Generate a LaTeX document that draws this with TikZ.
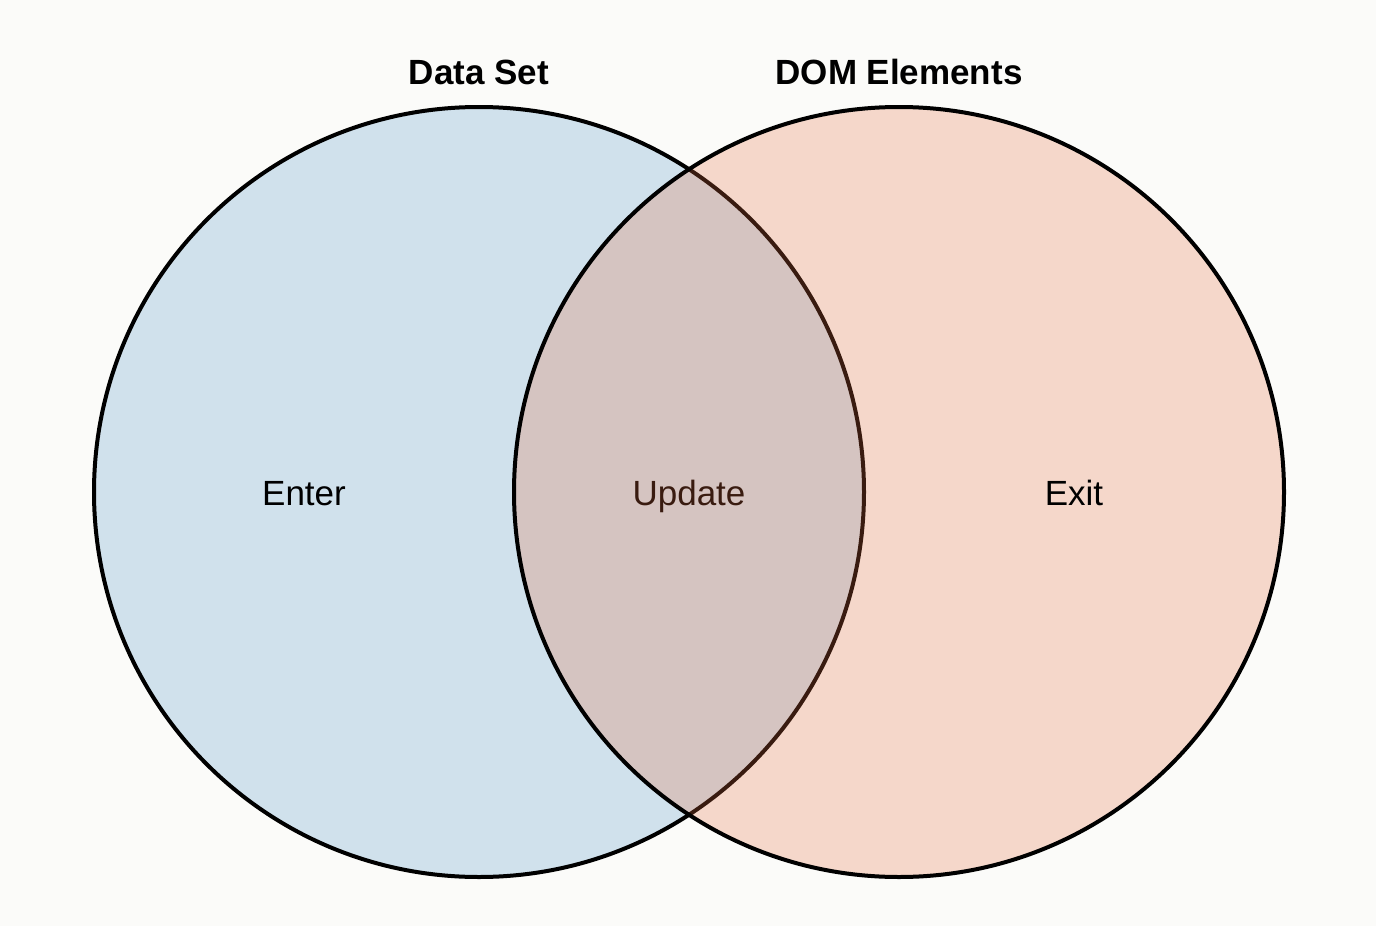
\documentclass[tikz,border=0pt]{standalone}
\usepackage{fontspec}
\setmainfont{Liberation Sans}
\definecolor{bgc}{RGB}{251,251,249}
\definecolor{blueset}{RGB}{208,225,236}
\definecolor{orangeset}{RGB}{231,111,65}
\begin{document}
\begin{tikzpicture}[x=1pt,y=-1pt,
  setline/.style={draw=black,line width=4pt},
  title/.style={font=\fontsize{35}{40}\selectfont\bfseries,anchor=base},
  lbl/.style={font=\fontsize{35}{40}\selectfont,anchor=base}]
\fill[bgc] (0,0) rectangle (1376,926);
\useasboundingbox (0,0) rectangle (1376,926);
\coordinate (cl) at (479,492);
\coordinate (cr) at (899,492);
\fill[blueset] (cl) circle[radius=385];
\draw[setline] (cl) circle[radius=385];
\node[lbl] (enter) at (304,505) {Enter};
\node[lbl] (update) at (689,505) {Update};
\fill[orangeset,fill opacity=0.25] (cr) circle[radius=385];
\draw[setline] (cr) circle[radius=385];
\node[lbl] (exit) at (1074,505) {Exit};
\node[title] (dataset) at (479,84) {Data Set};
\node[title] (dom) at (899,84) {DOM Elements};
\end{tikzpicture}
\end{document}
